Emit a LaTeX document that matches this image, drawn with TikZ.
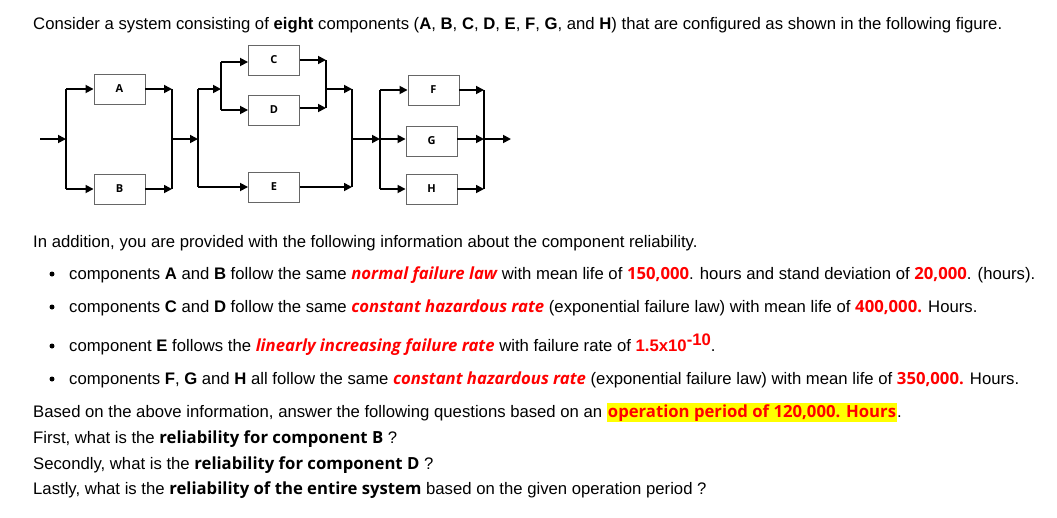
\documentclass[tikz,border=0pt]{standalone}
\usepackage{fontspec}
\setmainfont{Liberation Sans}
\newfontfamily\osans{Open Sans}
\usetikzlibrary{arrows.meta}
\definecolor{hl}{RGB}{255,255,0}
\newcommand{\rbi}[1]{{\osans\bfseries\itshape\color{red}#1}}
\newcommand{\rb}[1]{{\osans\bfseries\color{red}#1}}
\newcommand{\ab}[1]{{\bfseries\color{red}#1}}
\newcommand{\ob}[1]{{\osans\bfseries #1}}
\begin{document}
\begin{tikzpicture}[x=1pt,y=-1pt,
  blk/.style={draw=black!60,line width=0.9pt,minimum width=51pt,minimum height=30pt,inner sep=0pt,font=\osans\bfseries\fontsize{11}{12}\selectfont},
  ar/.style={line width=1.7pt,-{Triangle[length=8pt,width=8pt]}},
  ln/.style={line width=1.7pt},
  txt/.style={anchor=base west,inner sep=0pt,font=\fontsize{16.7}{20}\selectfont},
  bul/.style={circle,fill=black,inner sep=0pt,minimum size=5pt}]
\useasboundingbox (0,0) rectangle (1057,517);
\fill[white] (0,0) rectangle (1057,517);
% diagram
\node[blk] (A) at (119.5,89) {A};
\node[blk] (B) at (119.5,189) {B};
\node[blk] (C) at (274,60) {C};
\node[blk] (D) at (274,110) {D};
\node[blk] (E) at (274,187) {E};
\node[blk] (F) at (433.5,90) {F};
\node[blk] (G) at (431.5,141) {G};
\node[blk] (H) at (431.5,189) {H};
\coordinate (in) at (40,139);
\coordinate (s1t) at (66,89); \coordinate (s1b) at (66,189); \coordinate (s1m) at (66,139);
\coordinate (j1t) at (172,89); \coordinate (j1b) at (172,189); \coordinate (j1m) at (172,139);
\coordinate (s2t) at (198,89); \coordinate (s2b) at (198,187); \coordinate (s2m) at (198,139);
\coordinate (s3t) at (221,62); \coordinate (s3b) at (221,110); \coordinate (s3m) at (221,89);
\coordinate (j3t) at (326,60); \coordinate (j3b) at (326,108); \coordinate (j3m) at (326,89);
\coordinate (j2t) at (352,89); \coordinate (j2b) at (352,187); \coordinate (j2m) at (352,139);
\coordinate (s4t) at (380,90); \coordinate (s4b) at (380,189); \coordinate (s4m) at (380,139);
\coordinate (j4t) at (484,90); \coordinate (j4b) at (484,189); \coordinate (j4m) at (484,139);
\coordinate (out) at (511,139);
\draw[ar] (in) -- (s1m);
\draw[ln] (s1t) -- (s1b);
\draw[ar] (s1t) -- (A.west); \draw[ar] (s1b) -- (B.west);
\draw[ar] (A.east) -- (j1t); \draw[ar] (B.east) -- (j1b);
\draw[ln] (j1t) -- (j1b);
\draw[ar] (j1m) -- (s2m);
\draw[ln] (s2t) -- (s2b);
\draw[ar] (s2t) -- (s3m);
\draw[ln] (s3t) -- (s3b);
\draw[ar] (s3t) -- (C.west |- s3t); \draw[ar] (s3b) -- (D.west);
\draw[ar] (C.east) -- (j3t); \draw[ar] (D.east |- j3b) -- (j3b);
\draw[ln] (j3t) -- (j3b);
\draw[ar] (j3m) -- (j2t);
\draw[ar] (s2b) -- (E.west);
\draw[ar] (E.east) -- (j2b);
\draw[ln] (j2t) -- (j2b);
\draw[ar] (j2m) -- (s4m);
\draw[ln] (s4t) -- (s4b);
\draw[ar] (s4t) -- (F.west); \draw[ar] (s4m) -- (G.west |- s4m); \draw[ar] (s4b) -- (H.west);
\draw[ar] (F.east) -- (j4t); \draw[ar] (G.east |- j4m) -- (j4m); \draw[ar] (H.east) -- (j4b);
\draw[ln] (j4t) -- (j4b);
\draw[ar] (j4m) -- (out);
% text
\node[txt] (t1) at (33,29) {Consider a system consisting of \textbf{eight} components (\textbf{A}, \textbf{B}, \textbf{C}, \textbf{D}, \textbf{E}, \textbf{F}, \textbf{G}, and \textbf{H}) that are configured as shown in the following figure.};
\node[txt] (t2) at (33,247) {In addition, you are provided with the following information about the component reliability.};
\node[bul] (b1) at (52,274) {}; \node[bul] (b2) at (52,307) {}; \node[bul] (b3) at (52,346) {}; \node[bul] (b4) at (52,379) {};
\node[txt] (t3) at (69,279) {components \textbf{A} and \textbf{B} follow the same \rbi{normal failure law} with mean life of \rb{150,000}. hours and stand deviation of \rb{20,000}. (hours).};
\node[txt] (t4) at (69,312) {components \textbf{C} and \textbf{D} follow the same \rbi{constant hazardous rate} (exponential failure law) with mean life of \rb{400,000.} Hours.};
\node[txt] (t5) at (69,351) {component \textbf{E} follows the \rbi{linearly increasing failure rate} with failure rate of \ab{1.5x10\raisebox{6pt}{-10}}.};
\node[txt] (t6) at (69,384) {components \textbf{F}, \textbf{G} and \textbf{H} all follow the same \rbi{constant hazardous rate} (exponential failure law) with mean life of \rb{350,000.} Hours.};
\node[txt] (t7) at (33,417) {Based on the above information, answer the following questions based on an {\setlength{\fboxsep}{1pt}\colorbox{hl}{\rb{operation period of 120,000. Hours}}}.};
\node[txt] (t8) at (33,443) {First, what is the \ob{reliability for component B} ?};
\node[txt] (t9) at (33,469) {Secondly, what is the \ob{reliability for component D} ?};
\node[txt] (t10) at (33,494) {Lastly, what is the \ob{reliability of the entire system} based on the given operation period ?};
\end{tikzpicture}
\end{document}
